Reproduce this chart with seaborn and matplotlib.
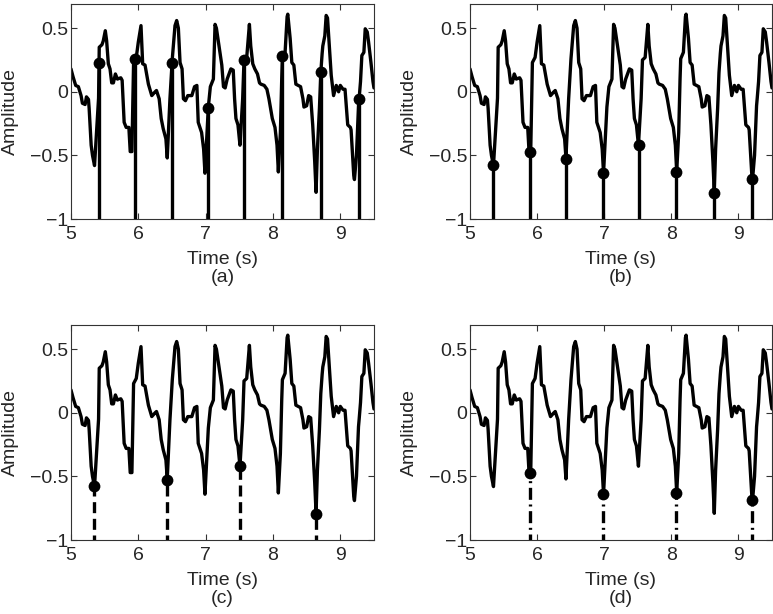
import numpy as np
import pandas as pd
import matplotlib
matplotlib.use("Agg")
import matplotlib.pyplot as plt
import seaborn as sns

# Signal (same trace in all four panels)
t = [5.00, 5.03, 5.07, 5.11, 5.15, 5.17, 5.21, 5.23, 5.26, 5.27, 5.30, 5.32, 5.35,
     5.38, 5.41, 5.42, 5.46, 5.48, 5.51, 5.53, 5.555, 5.58, 5.605, 5.63, 5.66, 5.69,
     5.74, 5.76, 5.79, 5.82, 5.86, 5.88, 5.905, 5.93, 5.97, 6.00, 6.04, 6.065, 6.10,
     6.15, 6.20, 6.25, 6.27, 6.31, 6.34, 6.37, 6.41, 6.43, 6.47, 6.505, 6.545, 6.57,
     6.595, 6.62, 6.65, 6.67, 6.70, 6.735, 6.795, 6.835, 6.87, 6.89, 6.94, 6.97, 6.99,
     7.02, 7.04, 7.07, 7.115, 7.14, 7.16, 7.19, 7.24, 7.265, 7.29, 7.32, 7.375, 7.41,
     7.43, 7.45, 7.48, 7.51, 7.55, 7.57, 7.61, 7.65, 7.67, 7.70, 7.73, 7.77, 7.80,
     7.82, 7.87, 7.91, 7.94, 7.99, 8.03, 8.06, 8.08, 8.11, 8.13, 8.14, 8.18, 8.21,
     8.22, 8.255, 8.28, 8.31, 8.34, 8.375, 8.41, 8.445, 8.46, 8.50, 8.53, 8.56, 8.59,
     8.62, 8.64, 8.66, 8.69, 8.71, 8.73, 8.74, 8.77, 8.79, 8.81, 8.84, 8.865, 8.90,
     8.94, 8.975, 9.00, 9.04, 9.07, 9.11, 9.15, 9.16, 9.20, 9.21, 9.24, 9.27, 9.28,
     9.30, 9.32, 9.35, 9.37, 9.40, 9.42, 9.455, 9.485, 9.50]
amp = [0.18, 0.12, 0.05, 0.04, -0.03, -0.09, -0.10, -0.04, -0.06, -0.13, -0.42, -0.50, -0.58,
       -0.32, -0.05, 0.35, 0.37, 0.40, 0.48, 0.40, 0.22, 0.18, 0.07, 0.07, 0.14, 0.10,
       0.11, 0.09, -0.24, -0.28, -0.28, -0.47, -0.47, 0.23, 0.27, 0.39, 0.52, 0.22, 0.21,
       0.06, -0.03, 0.00, 0.01, -0.055, -0.21, -0.29, -0.37, -0.52, -0.055, 0.26, 0.52, 0.56,
       0.50, 0.23, 0.18, -0.055, -0.07, -0.03, -0.03, 0.04, 0.05, -0.24, -0.32, -0.45, -0.64,
       -0.32, -0.12, 0.04, 0.10, 0.53, 0.50, 0.39, 0.21, 0.04, 0.03, 0.10, 0.18, 0.17,
       -0.055, -0.21, -0.26, -0.42, -0.055, 0.25, 0.27, 0.53, 0.36, 0.22, 0.18, 0.14, 0.07,
       0.06, 0.05, 0.02, -0.055, -0.21, -0.28, -0.42, -0.63, -0.32, 0.10, 0.26, 0.31, 0.59,
       0.61, 0.42, 0.23, 0.21, 0.06, 0.05, 0.04, -0.055, -0.12, -0.11, -0.03, -0.04, -0.26,
       -0.55, -0.79, -0.45, -0.13, 0.15, 0.30, 0.36, 0.44, 0.60, 0.58, 0.34, 0.13, -0.03,
       0.05, 0.00, 0.05, 0.02, 0.02, -0.26, -0.28, -0.30, -0.66, -0.69, -0.50, -0.11, -0.05,
       0.08, 0.285, 0.31, 0.495, 0.47, 0.39, 0.23, 0.08, 0.03]

# (a) detected upstroke points
a_t = [5.416, 5.95, 6.507, 7.04, 7.573, 8.14, 8.717, 9.28]
a_amp = [0.225, 0.257, 0.23, -0.128, 0.246, 0.283, 0.152, -0.055]
# (b) detected minima
b_t = [5.342, 5.888, 6.43, 6.985, 7.516, 8.077, 8.643, 9.203]
b_amp = [-0.572, -0.473, -0.525, -0.642, -0.418, -0.634, -0.794, -0.689]
# (c) odd minima, (d) even minima
c_t = b_t[0::2]
c_amp = b_amp[0::2]
d_t = b_t[1::2]
d_amp = b_amp[1::2]

sig = pd.DataFrame({"Time": t, "Amplitude": amp})

sns.set_style("ticks")
plt.rcParams["font.family"] = ["Liberation Sans", "DejaVu Sans"]
plt.rcParams["xtick.direction"] = "in"
plt.rcParams["ytick.direction"] = "in"
plt.rcParams["xtick.top"] = True
plt.rcParams["ytick.right"] = True

fig = plt.figure(figsize=(7.73, 6.14), dpi=100)
boxes = [
    [0.0918, 0.6433, 0.392, 0.3502],
    [0.608, 0.6433, 0.3907, 0.3502],
    [0.0918, 0.1205, 0.392, 0.3502],
    [0.608, 0.1205, 0.3907, 0.3502],
]
panels = [
    ("(a)", a_t, a_amp, "-"),
    ("(b)", b_t, b_amp, "-"),
    ("(c)", c_t, c_amp, (0, (3.3, 1.7))),
    ("(d)", d_t, d_amp, (0, (3.6, 1.4, 0.6, 1.4))),
]

for box, (tag, mt, ma, ls) in zip(boxes, panels):
    ax = fig.add_axes(box)
    ax.vlines(mt, -1.05, ma, colors="black", linewidth=2.4, linestyles=[ls])
    sns.lineplot(data=sig, x="Time", y="Amplitude", ax=ax, color="black",
                 linewidth=2.4, estimator=None, sort=False)
    sns.scatterplot(x=mt, y=ma, ax=ax, color="black", s=72, edgecolor="black",
                    linewidth=0, zorder=5)
    ax.set_xlim(5, 9.5)
    ax.set_ylim(-1, 0.69)
    ax.set_xticks([5, 6, 7, 8, 9])
    ax.set_yticks([-1, -0.5, 0, 0.5])
    ax.set_yticklabels(["\u22121", "\u22120.5", "0", "0.5"])
    ax.tick_params(labelsize=14, length=4, width=0.8, color="#333333")
    ax.tick_params(axis="x", pad=5)
    ax.tick_params(axis="y", pad=2)
    ax.set_xlabel("Time (s)\n" + tag, fontsize=14, labelpad=6, linespacing=1.05)
    ax.set_ylabel("Amplitude", fontsize=14, labelpad=8)
    for s in ax.spines.values():
        s.set_linewidth(0.8)
        s.set_color("#333333")

fig.savefig("out.png", dpi=100)
